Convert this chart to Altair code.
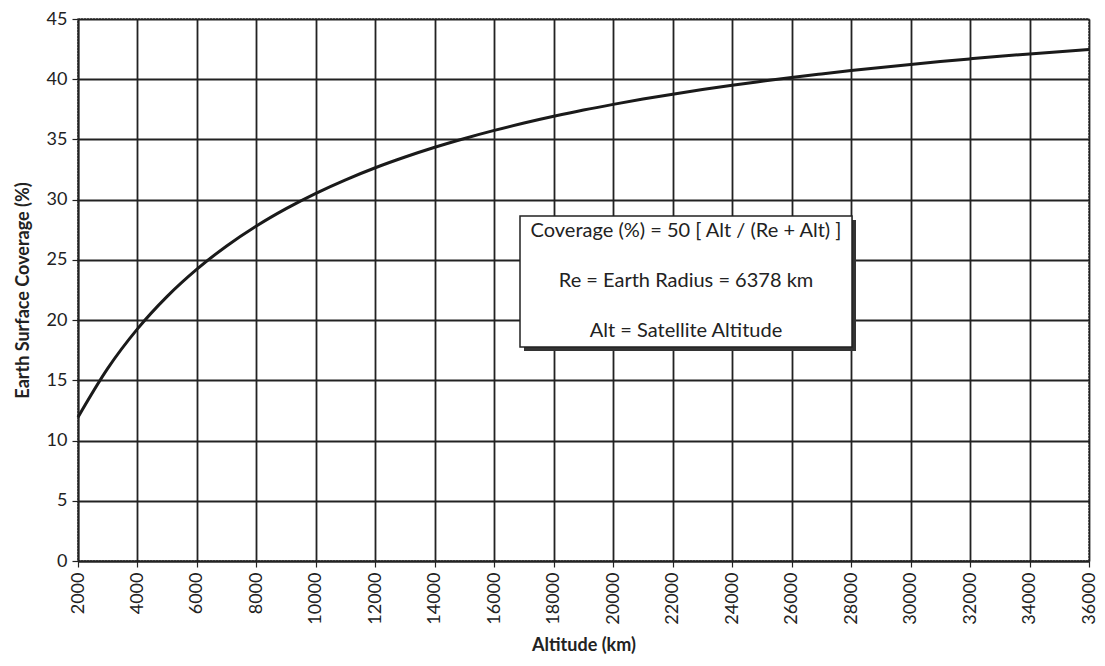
import altair as alt
import pandas as pd

altitude = [2000, 3000, 4000, 5000, 6000, 7000, 8000, 9000, 10000, 11000, 12000,
            13000, 14000, 15000, 16000, 17000, 18000, 19000, 20000, 21000, 22000,
            23000, 24000, 25000, 26000, 27000, 28000, 29000, 30000, 31000, 32000,
            33000, 34000, 35000, 36000]
coverage = [11.94, 15.99, 19.27, 21.97, 24.23, 26.16, 27.82, 29.26, 30.53, 31.65, 32.65,
            33.54, 34.35, 35.08, 35.75, 36.36, 36.92, 37.44, 37.91, 38.35, 38.76,
            39.14, 39.50, 39.83, 40.15, 40.44, 40.72, 40.98, 41.23, 41.47, 41.69,
            41.90, 42.10, 42.29, 42.47]
x_ticks = list(range(2000, 36001, 2000))
y_ticks = list(range(0, 46, 5))
box_lines = ["Coverage (%) = 50 [ Alt  / (Re + Alt) ]",
             "Re = Earth Radius = 6378 km",
             "Alt = Satellite Altitude"]

df = pd.DataFrame({"alt": altitude, "cov": coverage})
FONT = "Lato"

x = alt.X("alt:Q", scale=alt.Scale(domain=[2000, 36000], nice=False, zero=False),
          axis=alt.Axis(values=x_ticks, labelAngle=270, title="Altitude (km)", format="d",
                        labelAlign="right", labelBaseline="middle", labelPadding=5,
                        labelOverlap=False, labelBound=False, labelFlush=False))
y = alt.Y("cov:Q", scale=alt.Scale(domain=[0, 45], nice=False),
          axis=alt.Axis(values=y_ticks, title="Earth Surface Coverage (%)", labelPadding=5,
                        labelOverlap=False))

line = alt.Chart(df).mark_line(color="#1a1a1a", strokeWidth=3, interpolate="monotone").encode(x=x, y=y)

shadow = alt.Chart(pd.DataFrame({"a": [0]})).mark_rect(color="#333333").encode(
    x=alt.value(446), x2=alt.value(778), y=alt.value(201), y2=alt.value(332))
box = alt.Chart(pd.DataFrame({"a": [0]})).mark_rect(
    fill="white", stroke="#222222", strokeWidth=1.5).encode(
    x=alt.value(442), x2=alt.value(774), y=alt.value(197), y2=alt.value(328))

texts = []
for t, yy in zip(box_lines, [212, 262, 312]):
    texts.append(alt.Chart(pd.DataFrame({"t": [t]})).mark_text(
        font=FONT, fontSize=20, color="#222222", align="center", baseline="middle").encode(
        x=alt.value(608), y=alt.value(yy), text="t:N"))

chart = alt.layer(line, shadow, box, *texts).properties(
    width=1011, height=542,
    padding={"left": 70, "top": 11, "right": 8, "bottom": 98},
    autosize=alt.AutoSizeParams(type="none"),
).configure_view(
    stroke="#555555", strokeDash=[2, 1], strokeWidth=1.5
).configure_axis(
    grid=True, gridColor="#222222", gridWidth=1.8, gridOpacity=1,
    domainColor="#222222", domainWidth=1.8,
    tickColor="#222222", tickSize=6, tickWidth=1.2,
    labelFont=FONT, labelFontSize=18, labelColor="#222222",
    titleFont=FONT, titleFontSize=18, titleFontWeight="bold", titleColor="#222222",
).configure_axisX(titlePadding=12).configure_axisY(titlePadding=14)

chart.save("out.html", embed_options={"renderer": "svg", "actions": False})
